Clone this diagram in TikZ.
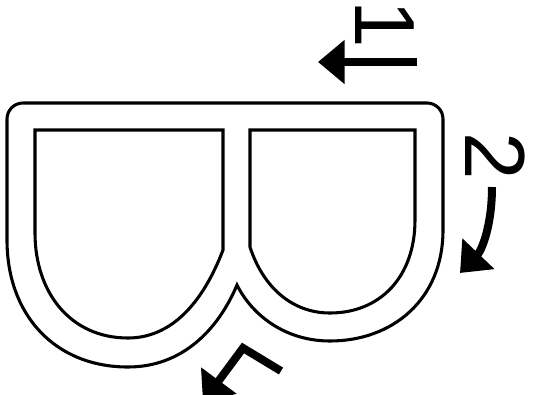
\documentclass[tikz,border=0pt]{standalone}
\usepackage{fontspec}
\setmainfont{Liberation Sans}
\usepackage{tikz}
\usetikzlibrary{arrows.meta}

\begin{document}
\begin{tikzpicture}[
  x=0.75pt, y=-0.75pt,
  outline/.style={line width=2.3pt, line join=miter},
  arr/.style={-{Triangle[length=20pt, width=32pt]}, line width=6pt},
  num/.style={font=\fontsize{64}{64}\selectfont, inner sep=0pt, rotate=-90}
]
\useasboundingbox (0,0) rectangle (533,394);

% outer contour of the letter
\draw[outline] (7,240) [rounded corners=12] -- (7,103) -- (443,103) [sharp corners] -- (443,230)
  .. controls (443,300) and (392,341) .. (330,341)
  .. controls (285,341) and (252,315) .. (237,285)
  .. controls (218,330) and (182,367) .. (128,367)
  .. controls (55,367) and (7,315) .. (7,240) -- cycle;

% inner counters
\draw[outline] (35,130) -- (223,130) -- (223,250)
  .. controls (202,305) and (170,338) .. (128,338)
  .. controls (70,338) and (35,292) .. (35,233) -- cycle;
\draw[outline] (250,130) -- (415,130) -- (415,220)
  .. controls (415,277) and (380,313) .. (330,313)
  .. controls (292,313) and (263,287) .. (250,247) -- cycle;

% stroke labels
\node[num] (n1) at (385,24) {1};
\node[num] (n2) at (495,156) {2};

\coordinate (a1s) at (417,62);
\coordinate (a1e) at (318,62);
\coordinate (a2s) at (492,187);
\coordinate (a2e) at (460,273);
\coordinate (a3s) at (281,371);
\coordinate (a3k) at (243,348);
\coordinate (a3e) at (203,402);

\draw[arr] (a1s) -- (a1e);
\draw[arr] (a2s) .. controls (492,225) and (482,250) .. (a2e);
\draw[arr, line join=miter] (a3s) -- (a3k) -- (a3e);
\end{tikzpicture}
\end{document}
